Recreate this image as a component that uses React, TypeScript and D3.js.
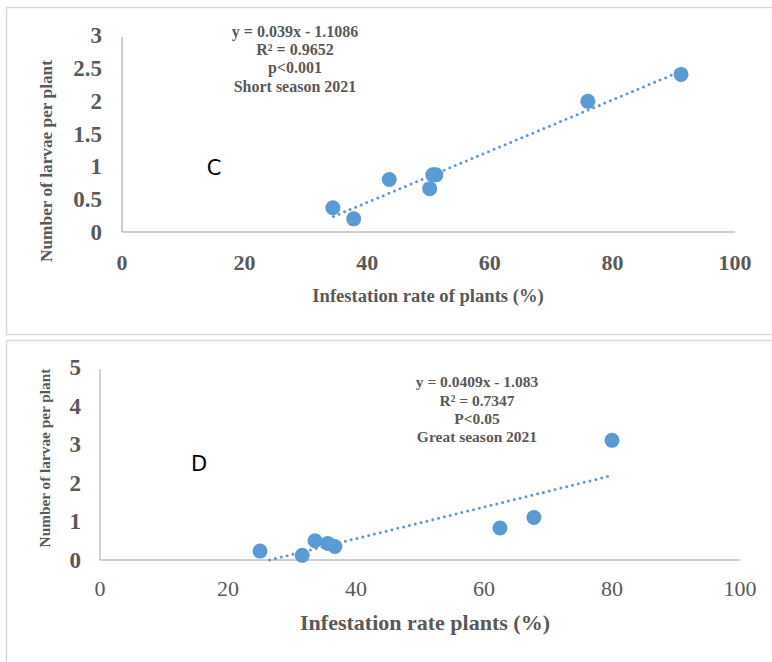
import React from "react";
import * as d3 from "d3";

const xTicks = [0, 20, 40, 60, 80, 100];
const cYTicks = [0, 0.5, 1, 1.5, 2, 2.5, 3];
const dYTicks = [0, 1, 2, 3, 4, 5];

const cInfestation = [34.4, 37.8, 43.6, 50.2, 50.7, 51.2, 76.0, 91.2];
const cLarvae = [0.37, 0.2, 0.8, 0.66, 0.87, 0.87, 1.99, 2.4];
const cTrend = { slope: 0.039, intercept: -1.1086, from: 34.5, to: 91 };
const cLabels = ["y = 0.039x - 1.1086", "R² = 0.9652", "p<0.001", "Short season 2021"];

const dInfestation = [25.0, 31.6, 33.6, 35.6, 36.7, 62.5, 67.8, 80.0];
const dLarvae = [0.23, 0.12, 0.5, 0.43, 0.35, 0.83, 1.1, 3.1];
const dTrend = { slope: 0.0409, intercept: -1.083, from: 26.5, to: 80 };
const dLabels = ["y = 0.0409x - 1.083", "R² = 0.7347", "P<0.05", "Great season 2021"];

const BLUE = "#5B9BD5";
const GREY = "#595959";
const AXIS = "#BFBFBF";
const SERIF = "'Liberation Serif', 'Times New Roman', serif";

type PanelProps = {
  xs: number[];
  ys: number[];
  yTicks: number[];
  yMax: number;
  trend: { slope: number; intercept: number; from: number; to: number };
  labels: string[];
  annSize: number;
  x0: number; x1: number; y0: number; y1: number;
  xTickBold: boolean;
  yTickRight: number;
  yTitle: string; yTitleSize: number; yTitleX: number; yTitleY: number;
  xTitle: string; xTitleSize: number; xTitleX: number; xTitleY: number;
  annX: number; annY: number;
  letter: string; letterX: number; letterY: number;
  xTickY: number;
};

function Panel(p: PanelProps) {
  const x = d3.scaleLinear().domain([0, 100]).range([p.x0, p.x1]);
  const y = d3.scaleLinear().domain([0, p.yMax]).range([p.y0, p.y1]);
  const line = d3
    .line<number>()
    .x((v) => x(v))
    .y((v) => y(p.trend.slope * v + p.trend.intercept));
  return (
    <g>
      <line x1={p.x0} x2={p.x0} y1={p.y0} y2={p.y1 + 2} stroke={AXIS} strokeWidth={1.5} />
      <line x1={p.x0} x2={p.x1} y1={p.y0} y2={p.y0} stroke={AXIS} strokeWidth={1.5} />
      {p.yTicks.map((t) => (
        <text
          key={"y" + t}
          x={p.yTickRight}
          y={y(t)}
          dy="0.35em"
          textAnchor="end"
          fontFamily={SERIF}
          fontWeight="bold"
          fontSize={23}
          fill={GREY}
        >
          {String(t)}
        </text>
      ))}
      {xTicks.map((t) => (
        <text
          key={"x" + t}
          x={x(t)}
          y={p.xTickY}
          dy="0.35em"
          textAnchor="middle"
          fontFamily={SERIF}
          fontWeight={p.xTickBold ? "bold" : "normal"}
          fontSize={22}
          fill={GREY}
        >
          {t}
        </text>
      ))}
      <path
        d={line([p.trend.from, p.trend.to]) || ""}
        fill="none"
        stroke={BLUE}
        strokeWidth={3}
        strokeLinecap="round"
        strokeDasharray="0 6"
      />
      {p.xs.map((v, i) => (
        <circle key={i} cx={x(v)} cy={y(p.ys[i])} r={7.5} fill={BLUE} />
      ))}
      <text
        transform={`translate(${p.yTitleX},${p.yTitleY}) rotate(-90)`}
        textAnchor="middle"
        dy="0.35em"
        fontFamily={SERIF}
        fontWeight="bold"
        fontSize={p.yTitleSize}
        fill={GREY}
      >
        {p.yTitle}
      </text>
      <text
        x={p.xTitleX}
        y={p.xTitleY}
        dy="0.35em"
        textAnchor="middle"
        fontFamily={SERIF}
        fontWeight="bold"
        fontSize={p.xTitleSize}
        fill={GREY}
      >
        {p.xTitle}
      </text>
      {p.labels.map((l, i) => (
        <text
          key={l}
          x={p.annX}
          y={p.annY + i * 18.3}
          dy="0.35em"
          textAnchor="middle"
          fontFamily={SERIF}
          fontWeight="bold"
          fontSize={p.annSize}
          fill={GREY}
        >
          {l}
        </text>
      ))}
      <text
        x={p.letterX}
        y={p.letterY}
        dy="0.35em"
        textAnchor="middle"
        fontFamily="'DejaVu Sans', 'Noto Sans', sans-serif"
        fontSize={21}
        fill="#000"
      >
        {p.letter}
      </text>
    </g>
  );
}

export default function App() {
  return (
    <svg
      width={772}
      height={662}
      style={{ position: "absolute", left: 0, top: 0, background: "#fff" }}
    >
      <rect x={0} y={0} width={772} height={662} fill="#fff" />
      <rect x={6.5} y={7.5} width={770} height={327} fill="none" stroke="#D9D9D9" strokeWidth={1.5} />
      <rect x={6.5} y={340.5} width={770} height={330} fill="none" stroke="#D9D9D9" strokeWidth={1.5} />
      <Panel
        xs={cInfestation}
        ys={cLarvae}
        yTicks={cYTicks}
        yMax={3}
        trend={cTrend}
        labels={cLabels}
        annSize={16}
        x0={122}
        x1={735}
        y0={232}
        y1={35}
        xTickBold={true}
        yTickRight={102}
        yTitle="Number of larvae per plant"
        yTitleSize={17.3}
        yTitleX={46}
        yTitleY={161}
        xTitle="Infestation rate of plants (%)"
        xTitleSize={18.6}
        xTitleX={428}
        xTitleY={295}
        annX={295}
        annY={31}
        letter="C"
        letterX={214}
        letterY={168}
        xTickY={262}
      />
      <Panel
        xs={dInfestation}
        ys={dLarvae}
        yTicks={dYTicks}
        yMax={5}
        trend={dTrend}
        labels={dLabels}
        annSize={15.5}
        x0={100}
        x1={740}
        y0={560}
        y1={367}
        xTickBold={false}
        yTickRight={81}
        yTitle="Number of larvae per plant"
        yTitleSize={15.3}
        yTitleX={45}
        yTitleY={458}
        xTitle="Infestation rate plants (%)"
        xTitleSize={22}
        xTitleX={425}
        xTitleY={622}
        annX={477}
        annY={382}
        letter="D"
        letterX={199}
        letterY={464}
        xTickY={588}
      />
    </svg>
  );
}
